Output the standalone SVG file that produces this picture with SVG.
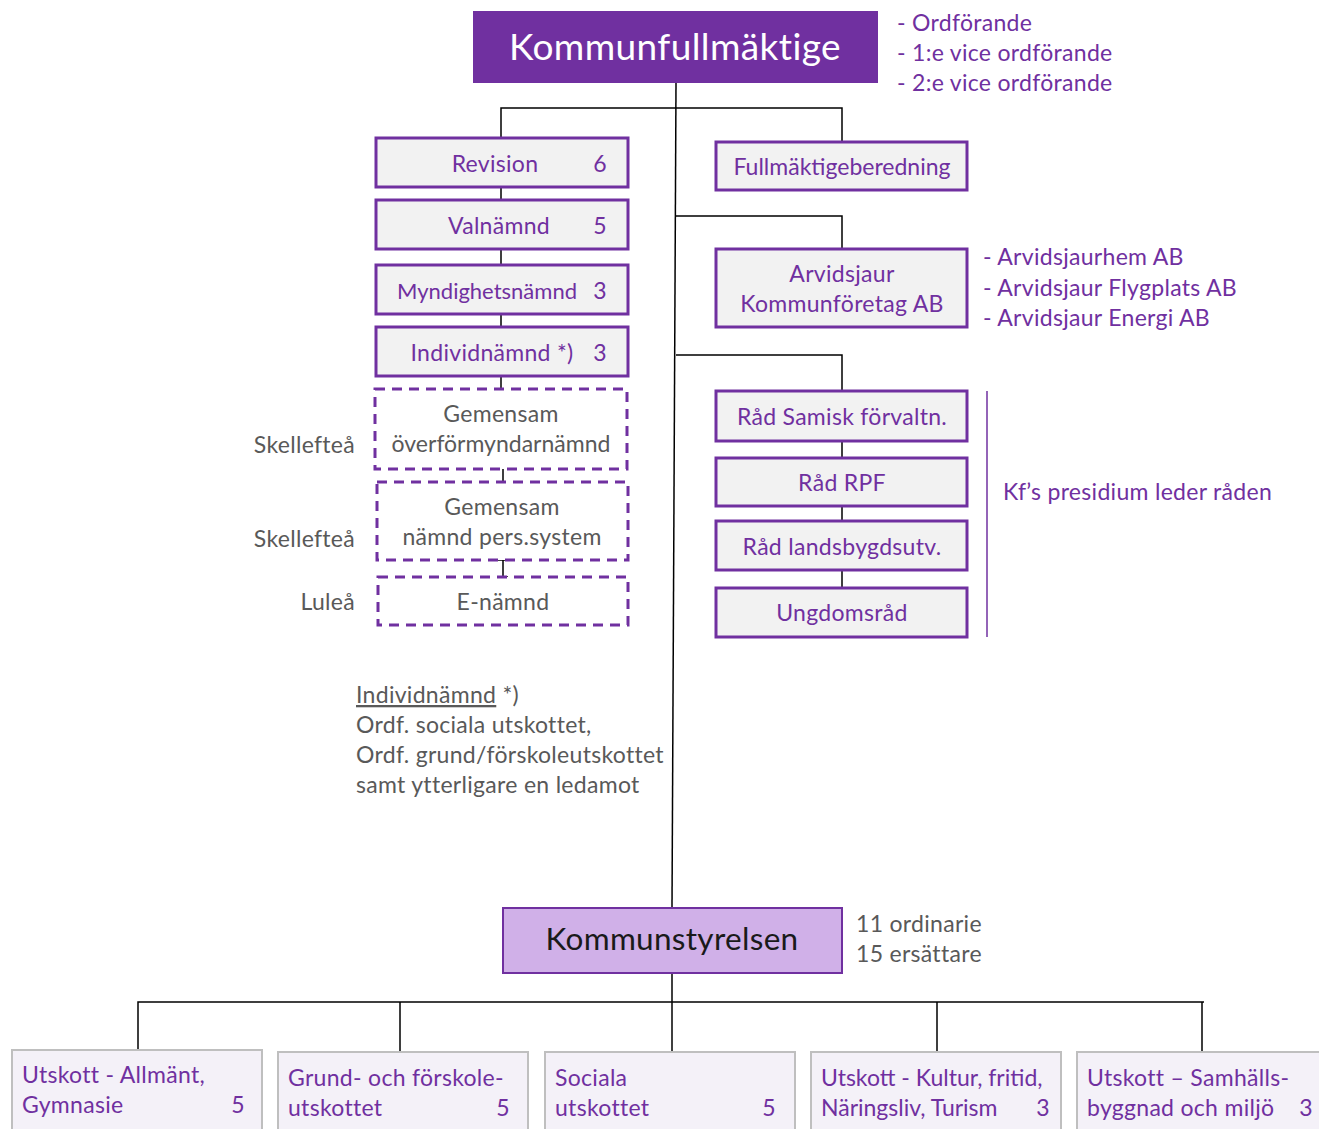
<svg xmlns="http://www.w3.org/2000/svg" width="1319" height="1129" viewBox="0 0 1319 1129">
<style>
text{font-family:Lato,"Open Sans","Liberation Sans",sans-serif}
.b{fill:#F2F2F2;stroke:#7030A0;stroke-width:3}
.d{fill:#FFFFFF;stroke:#7030A0;stroke-width:3;stroke-dasharray:10,7}
.u{fill:#F4F1F8;stroke:#BFBFBF;stroke-width:2}
.p{fill:#7030A0;font-size:23px;letter-spacing:0.3px}
.g{fill:#595959;font-size:23px;letter-spacing:0.3px}
.c{stroke:#000;stroke-width:1.5;fill:none}
.m{text-anchor:middle}
.e{text-anchor:end}
</style>
<rect width="1319" height="1129" fill="#fff"/>
<g id="connectors">
<path class="c" d="M676,83 L672,908"/>
<path class="c" d="M501,138 V108 H842 V142"/>
<path class="c" d="M676,216 H842 V249"/>
<path class="c" d="M676,355 H842 V391"/>
<path class="c" d="M501,187 V200 M501,249 V265 M501,314 V327 M501,376 V389"/>
<path class="c" d="M503,469 V482 M503,560 V577 M498,560 H508 M498,577 H508"/>
<path class="c" d="M842,441 V458 M842,506 V521 M842,570 V588"/>
<path class="c" d="M672,973 V1052"/>
<path class="c" d="M138,1050 V1002 H1204 M400,1002 V1052 M937,1002 V1052 M1202,1002 V1052"/>
<line x1="987" y1="391" x2="987" y2="637" stroke="#7030A0" stroke-width="1.5"/>
</g>
<g id="kommunfullmaktige">
<rect x="473" y="11" width="405" height="72" fill="#7030A0"/>
<text x="675" y="60" class="m" fill="#fff" font-size="37" letter-spacing="0.4">Kommunfullmäktige</text>
</g>
<g id="kf-presidium">
<text x="897" y="31" class="p">- Ordförande</text>
<text x="897" y="61" class="p">- 1:e vice ordförande</text>
<text x="897" y="91" class="p">- 2:e vice ordförande</text>
</g>
<g id="revision"><rect class="b" x="376" y="138" width="252" height="49"/><text x="495" y="172" class="p m">Revision</text><text x="607" y="172" class="p e">6</text></g>
<g id="valnamnd"><rect class="b" x="376" y="200" width="252" height="49"/><text x="499" y="234" class="p m">Valnämnd</text><text x="607" y="234" class="p e">5</text></g>
<g id="myndighetsnamnd"><rect class="b" x="376" y="265" width="252" height="49"/><text x="487" y="299" class="p m" style="font-size:22px;letter-spacing:0">Myndighetsnämnd</text><text x="607" y="299" class="p e">3</text></g>
<g id="individnamnd"><rect class="b" x="376" y="327" width="252" height="49"/><text x="492" y="361" class="p m">Individnämnd *)</text><text x="607" y="361" class="p e">3</text></g>
<g id="overformyndarnamnd"><rect class="d" x="375" y="389" width="252" height="80"/><text x="501" y="422" class="g m">Gemensam</text><text x="501" y="452" class="g m" style="letter-spacing:0">överförmyndarnämnd</text><text x="355" y="453" class="g e">Skellefteå</text></g>
<g id="perssystem"><rect class="d" x="377" y="482" width="251" height="78"/><text x="502" y="515" class="g m">Gemensam</text><text x="502" y="545" class="g m">nämnd pers.system</text><text x="355" y="547" class="g e">Skellefteå</text></g>
<g id="e-namnd"><rect class="d" x="378" y="577" width="250" height="48"/><text x="503" y="610" class="g m">E-nämnd</text><text x="355" y="610" class="g e">Luleå</text></g>
<g id="fullmaktigeberedning"><rect class="b" x="716" y="142" width="251" height="48"/><text x="842" y="175" class="p m" style="letter-spacing:0">Fullmäktigeberedning</text></g>
<g id="kommunforetag"><rect class="b" x="716" y="249" width="251" height="78"/><text x="842" y="282" class="p m">Arvidsjaur</text><text x="842" y="312" class="p m">Kommunföretag AB</text>
<text x="983" y="265" class="p">- Arvidsjaurhem AB</text><text x="983" y="296" class="p">- Arvidsjaur Flygplats AB</text><text x="983" y="326" class="p">- Arvidsjaur Energi AB</text></g>
<g id="rad-samisk"><rect class="b" x="716" y="391" width="251" height="50"/><text x="842" y="425" class="p m">Råd Samisk förvaltn.</text></g>
<g id="rad-rpf"><rect class="b" x="716" y="458" width="251" height="48"/><text x="842" y="491" class="p m">Råd RPF</text></g>
<g id="rad-landsbygd"><rect class="b" x="716" y="521" width="251" height="49"/><text x="842" y="555" class="p m">Råd landsbygdsutv.</text></g>
<g id="ungdomsrad"><rect class="b" x="716" y="588" width="251" height="49"/><text x="842" y="621" class="p m">Ungdomsråd</text></g>
<g id="presidium-note"><text x="1003" y="500" class="p">Kf’s presidium leder råden</text></g>
<g id="individ-note">
<text x="356" y="703" class="g"><tspan text-decoration="underline">Individnämnd</tspan> *)</text>
<text x="356" y="733" class="g">Ordf. sociala utskottet,</text>
<text x="356" y="763" class="g">Ordf. grund/förskoleutskottet</text>
<text x="356" y="793" class="g">samt ytterligare en ledamot</text>
</g>
<g id="kommunstyrelsen"><rect x="503" y="908" width="339" height="65" fill="#D0B0E8" stroke="#7030A0" stroke-width="2"/><text x="672" y="950" class="m" fill="#1a1a1a" font-size="31.5" letter-spacing="0.3">Kommunstyrelsen</text>
<text x="856" y="932" class="g">11 ordinarie</text><text x="856" y="962" class="g">15 ersättare</text></g>
<g id="utskott-allmant"><rect class="u" x="12" y="1050" width="250" height="85"/><text x="22" y="1083" class="p">Utskott - Allmänt,</text><text x="22" y="1113" class="p">Gymnasie</text><text x="245" y="1113" class="p e">5</text></g>
<g id="utskott-grund"><rect class="u" x="278" y="1052" width="250" height="85"/><text x="288" y="1086" class="p">Grund- och förskole-</text><text x="288" y="1116" class="p">utskottet</text><text x="510" y="1116" class="p e">5</text></g>
<g id="utskott-sociala"><rect class="u" x="545" y="1052" width="250" height="85"/><text x="555" y="1086" class="p">Sociala</text><text x="555" y="1116" class="p">utskottet</text><text x="776" y="1116" class="p e">5</text></g>
<g id="utskott-kultur"><rect class="u" x="811" y="1052" width="250" height="85"/><text x="821" y="1086" class="p" style="letter-spacing:0">Utskott - Kultur, fritid,</text><text x="821" y="1116" class="p" style="letter-spacing:0">Näringsliv, Turism</text><text x="1050" y="1116" class="p e">3</text></g>
<g id="utskott-samhall"><rect class="u" x="1077" y="1052" width="250" height="85"/><text x="1087" y="1086" class="p">Utskott – Samhälls-</text><text x="1087" y="1116" class="p">byggnad och miljö</text><text x="1313" y="1116" class="p e">3</text></g>
</svg>
